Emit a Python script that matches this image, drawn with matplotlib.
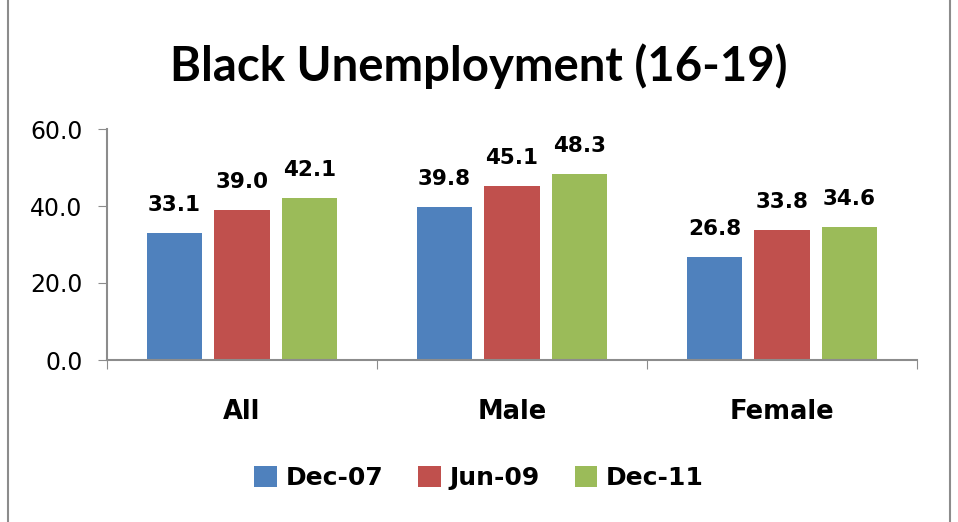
import numpy as np
import matplotlib.pyplot as plt
from matplotlib.patches import Rectangle

categories = ['All', 'Male', 'Female']
series = ['Dec-07', 'Jun-09', 'Dec-11']
dec07 = [33.1, 39.8, 26.8]
jun09 = [39.0, 45.1, 33.8]
dec11 = [42.1, 48.3, 34.6]
colors = ['#4f81bd', '#c0504d', '#9bbb59']

plt.rcParams['font.family'] = ['DejaVu Sans']

fig = plt.figure(figsize=(9.58, 5.22), dpi=100)
fig.patches.append(Rectangle((8 / 958, -0.01), 942 / 958, 1.02, transform=fig.transFigure,
                             fill=False, edgecolor='#8c8c8c', linewidth=1.5))
ax = fig.add_axes([107 / 958, 1 - 360 / 522, 810 / 958, 231 / 522])

x = np.arange(len(categories))
w = 0.204
step = 0.25
for i, (vals, name) in enumerate(zip([dec07, jun09, dec11], series)):
    bars = ax.bar(x + (i - 1) * step, vals, w, color=colors[i], label=name)
    for b, v in zip(bars, vals):
        ax.annotate(f'{v:.1f}', (b.get_x() + b.get_width() / 2, v), xytext=(0, 13),
                    textcoords='offset points', ha='center', va='bottom',
                    fontsize=15.5, fontweight='bold')

ax.set_xlim(-0.5, 2.5)
ax.set_ylim(0, 60)
ax.set_yticks([0, 20, 40, 60])
ax.set_yticklabels([f'{t:.1f}' for t in [0, 20, 40, 60]], fontsize=17)
ax.set_xticks([-0.5, 0.5, 1.5, 2.5])
ax.set_xticklabels([])
ax.set_xticks(x, minor=True)
ax.set_xticklabels(categories, minor=True, fontsize=18.5, fontweight='bold')
ax.tick_params(axis='x', which='minor', length=0, pad=28)
ax.tick_params(axis='x', which='major', length=6.5, color='#8c8c8c', direction='out')
ax.tick_params(axis='y', length=6.5, color='#8c8c8c', direction='out', pad=11)
for s in ['top', 'right']:
    ax.spines[s].set_visible(False)
for s in ['left', 'bottom']:
    ax.spines[s].set_color('#8c8c8c')
    ax.spines[s].set_linewidth(1.5)

fig.text(0.5, 1 - 66 / 522, 'Black Unemployment (16-19)', ha='center', va='center',
         fontsize=34, fontweight='bold', family=['Lato', 'DejaVu Sans'])

fig.legend(loc='center', bbox_to_anchor=(0.5, 1 - 478 / 522), ncol=3, frameon=False,
           prop={'size': 18, 'weight': 'bold'}, handlelength=0.9, handleheight=0.9,
           handletextpad=0.35, columnspacing=1.4)

fig.savefig('out.png', dpi=100)
